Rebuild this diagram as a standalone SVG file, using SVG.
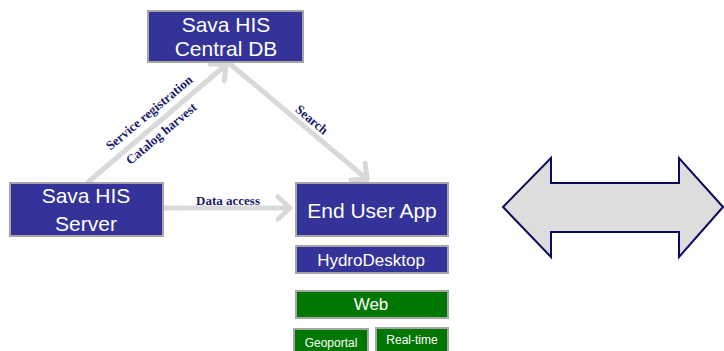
<svg xmlns="http://www.w3.org/2000/svg" width="724" height="351" viewBox="0 0 724 351">
<style>
.box{stroke:#a6a6a6;stroke-width:2}
.blue{fill:#333399}
.green{fill:#007700}
.bt{fill:#ffffff;font-family:"Liberation Sans",Arial,sans-serif;text-anchor:middle}
.edge{stroke:#d9d9d9;stroke-width:5;fill:none}
.lbl{fill:#1a1a6e;font-family:"Liberation Serif","Times New Roman",serif;font-weight:bold;font-size:13px;text-anchor:middle}
</style>
<defs>
<marker id="chev" markerUnits="userSpaceOnUse" markerWidth="30" markerHeight="30" viewBox="-20 -15 30 30" refX="0" refY="0" orient="auto">
<path d="M-13,-11 L-1,0 L-13,11" fill="none" stroke="#d9d9d9" stroke-width="5" stroke-linecap="round" stroke-linejoin="round"/>
</marker>
</defs>
<g id="connectors">
<line class="edge" x1="87" y1="183" x2="227" y2="64" marker-end="url(#chev)"/>
<line class="edge" x1="229" y1="63" x2="368" y2="180" marker-end="url(#chev)"/>
<line class="edge" x1="163" y1="208" x2="291" y2="208" marker-end="url(#chev)"/>
<text class="lbl" transform="translate(152,116) rotate(-40)">Service registration</text>
<text class="lbl" transform="translate(164,137) rotate(-40)">Catalog harvest</text>
<text class="lbl" transform="translate(309,123) rotate(40)">Search</text>
<text class="lbl" x="228" y="205">Data access</text>
</g>
<g id="central-db">
<rect class="box blue" x="148" y="11" width="155" height="51"/>
<text class="bt" x="226" y="32" font-size="21">Sava HIS</text>
<text class="bt" x="226" y="56" font-size="21">Central DB</text>
</g>
<g id="server">
<rect class="box blue" x="10" y="183" width="153" height="53"/>
<text class="bt" x="86" y="203" font-size="21">Sava HIS</text>
<text class="bt" x="86" y="231" font-size="21">Server</text>
</g>
<g id="end-user-app">
<rect class="box blue" x="296" y="183" width="152" height="53"/>
<text class="bt" x="372" y="218" font-size="21">End User App</text>
</g>
<g id="hydrodesktop">
<rect class="box blue" x="296" y="246" width="152" height="27"/>
<text class="bt" x="371" y="266" font-size="17">HydroDesktop</text>
</g>
<g id="web">
<rect class="box green" x="296" y="291" width="152" height="27"/>
<text class="bt" x="371" y="310" font-size="17">Web</text>
</g>
<g id="geoportal">
<rect class="box green" x="294" y="329" width="74" height="26"/>
<text class="bt" x="331" y="347" font-size="12">Geoportal</text>
</g>
<g id="realtime">
<rect class="box green" x="376" y="328" width="72" height="27"/>
<text class="bt" x="412" y="344" font-size="12">Real-time</text>
</g>
<g id="double-arrow">
<path d="M503,207 L551,158 L551,183 L679,183 L679,158 L723,207 L679,257 L679,232 L551,232 L551,257 Z" fill="#dddddd" stroke="#0a0a5e" stroke-width="2" stroke-linejoin="miter"/>
</g>
</svg>
